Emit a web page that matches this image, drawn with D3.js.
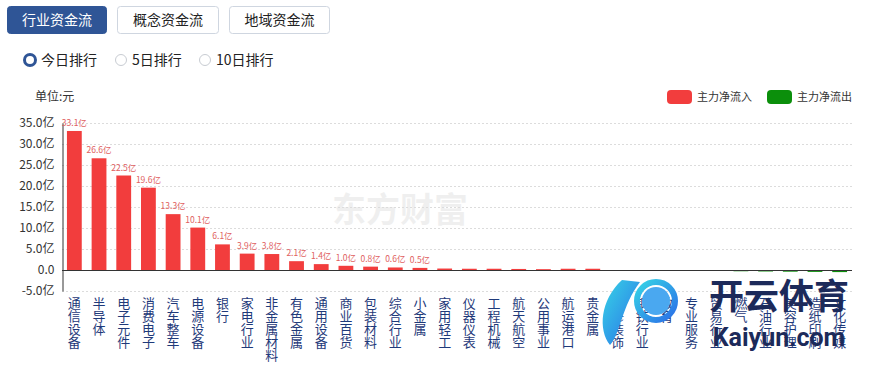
<!DOCTYPE html>
<html><head><meta charset="utf-8">
<script src="https://cdn.jsdelivr.net/npm/d3@7"></script>
<style>
body{margin:0;background:#fff;font-family:"Noto Sans CJK SC","Noto Sans",sans-serif;}
svg{display:block;}
.vlab{writing-mode:vertical-rl;text-orientation:upright;}
</style></head><body>
<svg id="c" width="871" height="369"></svg>
<script>
const categories = ["通信设备","半导体","电子元件","消费电子","汽车整车","电源设备","银行","家电行业","非金属材料","有色金属","通用设备","商业百货","包装材料","综合行业","小金属","家用轻工","仪器仪表","工程机械","航天航空","公用事业","航运港口","贵金属","装修装饰","钢铁行业","教育","专业服务","贸易行业","燃气","石油行业","美容护理","造纸印刷","文化传媒"];
const values = [33.1,26.6,22.5,19.6,13.3,10.1,6.1,3.9,3.8,2.1,1.4,1.0,0.8,0.6,0.5,0.35,0.3,0.3,0.25,0.2,0.3,0.3,-0.05,-0.1,-0.1,-0.15,-0.2,-0.3,-0.35,-0.4,-0.45,-0.5];
const labelCount = 15;
const yTicks = [-5,0,5,10,15,20,25,30,35];
const buttons = ["行业资金流","概念资金流","地域资金流"];
const radios = ["今日排行","5日排行","10日排行"];
const legendItems = [{name:"主力净流入",color:"#f23d3d"},{name:"主力净流出",color:"#0b8f0b"}];

const svg = d3.select("#c");
const FONT = '"Noto Sans CJK SC","Noto Sans",sans-serif';

// buttons
const bx = [7,117,229], bw = [99,101,100];
buttons.forEach((b,i)=>{
  svg.append("rect").attr("x",bx[i]+0.5).attr("y",6.5).attr("width",bw[i]).attr("height",27).attr("rx",3)
    .attr("fill", i===0?"#2f5596":"#fff").attr("stroke", i===0?"#2f5596":"#cfd6e0");
  svg.append("text").attr("x",bx[i]+bw[i]/2+0.5).attr("y",25).attr("text-anchor","middle")
    .attr("font-size",14).attr("font-family",FONT).attr("fill", i===0?"#fff":"#222").text(b);
});
// radios
const rx = [30,121,205];
radios.forEach((r,i)=>{
  if(i===0){
    svg.append("circle").attr("cx",rx[i]).attr("cy",60).attr("r",5.5).attr("fill","#fff").attr("stroke","#2f5596").attr("stroke-width",3);
  } else {
    svg.append("circle").attr("cx",rx[i]).attr("cy",60).attr("r",5.5).attr("fill","#fff").attr("stroke","#c8ccd2").attr("stroke-width",1);
  }
  svg.append("text").attr("x",rx[i]+11).attr("y",65).attr("font-size",14).attr("font-family",FONT).attr("fill","#222").text(r);
});

// unit
svg.append("text").attr("x",35).attr("y",101).attr("font-size",12).attr("font-family",FONT).attr("fill","#333").text("单位:元");

// legend
const lx = [667,767];
legendItems.forEach((l,i)=>{
  svg.append("rect").attr("x",lx[i]).attr("y",90).attr("width",25).attr("height",14).attr("rx",4).attr("fill",l.color);
  svg.append("text").attr("x",lx[i]+30).attr("y",101).attr("font-size",11).attr("font-family",FONT).attr("fill","#333").text(l.name);
});

// watermark
svg.append("text").attr("x",400).attr("y",222).attr("text-anchor","middle").attr("font-size",34).attr("font-weight","bold")
  .attr("font-family",FONT).attr("fill","#000").attr("opacity",0.06).text("东方财富");

// scales
const x = d3.scaleBand().domain(categories).range([62,852]).paddingInner(0.4).paddingOuter(0.2);
const y = d3.scaleLinear().domain([-5,35]).range([291,123]);

// grid
svg.append("g").selectAll("line").data(yTicks).join("line")
  .attr("x1",62).attr("x2",852).attr("y1",d=>Math.round(y(d))+0.5).attr("y2",d=>Math.round(y(d))+0.5)
  .attr("stroke","#dcdcdc").attr("stroke-dasharray","2,2");

// y axis
const yAxis = d3.axisLeft(y).tickValues(yTicks).tickSize(0).tickPadding(8)
  .tickFormat(d=> d===0 ? "0.0" : d.toFixed(1)+"亿");
const ga = svg.append("g").attr("transform","translate(62.5,0)").call(yAxis);
ga.select(".domain").attr("stroke","#333");
ga.selectAll("text").attr("font-size",12).attr("font-family",FONT).attr("fill","#333");

// bars
const data = categories.map((c,i)=>({c,v:values[i],i}));
svg.append("g").selectAll("rect").data(data).join("rect")
  .attr("x",d=>x(d.c)).attr("width",x.bandwidth())
  .attr("y",d=>y(Math.max(0,d.v))).attr("height",d=>Math.abs(y(d.v)-y(0)))
  .attr("fill",d=>d.v>=0?legendItems[0].color:legendItems[1].color);

// bar labels
svg.append("g").selectAll("text").data(data.filter(d=>d.i<labelCount)).join("text")
  .attr("x",d=>x(d.c)+x.bandwidth()/2).attr("y",d=>y(d.v)-5).attr("text-anchor","middle")
  .attr("font-size",8.5).attr("font-family",FONT).attr("fill","#e06060").text(d=>d.v.toFixed(1)+"亿");

// zero axis line
svg.append("line").attr("x1",62).attr("x2",852).attr("y1",Math.round(y(0))+0.5).attr("y2",Math.round(y(0))+0.5).attr("stroke","#333");

// x labels vertical (one text element per category)
svg.append("g").selectAll("text").data(data).join("text")
  .attr("class","vlab")
  .attr("x",d=>x(d.c)+x.bandwidth()/2).attr("y",297)
  .attr("font-size",13).attr("font-family",FONT).attr("fill","#1f3a7a")
  .text(d=>d.c);

// overlaid site logo seen in the reference
const defs = svg.append("defs");
const gr = defs.append("linearGradient").attr("id","kg").attr("x1","0").attr("y1","0").attr("x2","1").attr("y2","1");
gr.append("stop").attr("offset","0").attr("stop-color","#36d4e6");
gr.append("stop").attr("offset","1").attr("stop-color","#2b6fe8");
svg.append("path").attr("d","M622,280 C600,300 598,330 610,345 C620,335 622,305 640,282 Z").attr("fill","url(#kg)");
svg.append("circle").attr("cx",656).attr("cy",301).attr("r",19).attr("fill","none").attr("stroke","url(#kg)").attr("stroke-width",6);
svg.append("circle").attr("cx",656).attr("cy",301).attr("r",14).attr("fill","#4aa8f0");
svg.append("text").attr("x",779).attr("y",309).attr("text-anchor","middle").attr("font-size",35).attr("font-weight","bold")
  .attr("font-family",FONT).attr("fill","#1c2a5a").text("开云体育");
svg.append("text").attr("x",779).attr("y",346).attr("text-anchor","middle").attr("font-size",25).attr("font-weight","bold")
  .attr("font-family","Roboto,sans-serif").attr("fill","#1c2a5a").text("Kaiyun.com");
</script>
</body></html>
